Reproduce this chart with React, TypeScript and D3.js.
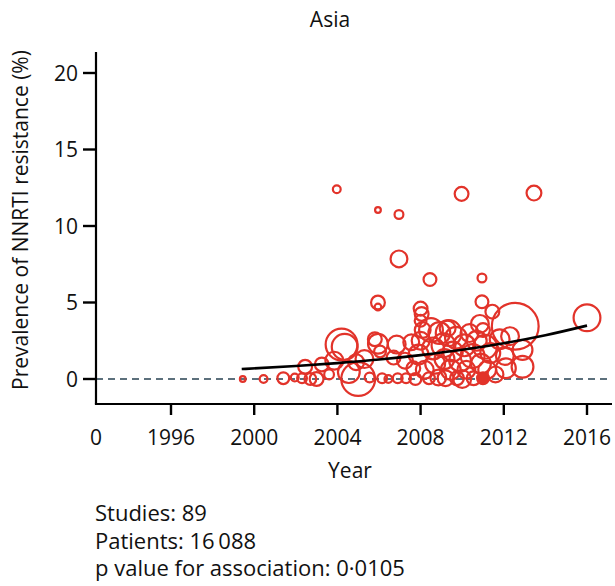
import React from "react";
import * as d3 from "d3";

// Study-level estimates of NNRTI resistance prevalence in Asia
const studyYear = [
  1999.45, 2000.45, 2001.4, 2001.95, 2002.3, 2002.45, 2002.7, 2003.0, 2003.25, 2003.6,
  2003.85, 2004.2, 2004.35, 2004.55, 2005.0, 2004.9, 2005.3, 2005.55, 2005.95, 2005.95,
  2005.95, 2006.05, 2005.8, 2006.15, 2006.45, 2006.85, 2006.7, 2006.9, 2007.25, 2007.3,
  2007.55, 2007.65, 2007.75, 2003.97, 2005.95, 2006.96, 2006.96, 2008.45, 2009.97, 2013.45,
  2010.95, 2010.95, 2008.0, 2008.05, 2008.0, 2008.1, 2008.0, 2007.9, 2008.2, 2008.4,
  2008.6, 2008.7, 2008.9, 2008.85, 2009.1, 2009.15, 2009.2, 2009.3, 2009.45, 2009.55,
  2009.7, 2009.75, 2009.9, 2010.0, 2010.1, 2010.2, 2010.35, 2010.5, 2010.55, 2010.7,
  2010.85, 2010.9, 2011.0, 2011.1, 2011.0, 2011.2, 2011.35, 2011.45, 2011.6, 2011.8,
  2012.05, 2012.1, 2012.55, 2012.9, 2012.9, 2016.0, 2008.5, 2009.35, 2012.3,
];

const studyPrevalence = [
  0, 0, 0.05, 0.1, 0.05, 0.8, 0, 0, 0.95, 0.3,
  1.2, 2.25, 2.1, 0.45, 0, 1.1, 1.3, 0.1, 5.0, 4.7,
  2.3, 1.8, 2.6, 0.05, 0, 2.25, 1.4, 0.05, 1.2, 0.05,
  2.4, 0.7, 0, 12.4, 11.05, 10.75, 7.85, 6.5, 12.1, 12.15,
  6.6, 5.05, 4.6, 4.25, 3.8, 3.2, 2.5, 1.6, 0.6, 0.05,
  2.0, 1.0, 3.0, 0.1, 2.2, 1.3, 0.05, 3.3, 0.6, 1.8,
  2.7, 0.05, 1.2, 0, 2.2, 0.6, 3.0, 1.5, 0.05, 2.5,
  3.6, 1.0, 0.05, 2.1, 3.2, 0.6, 1.7, 4.4, 0.3, 2.6,
  1.5, 0.7, 3.45, 1.9, 0.8, 4.0, 3.2, 3.0, 2.8,
];

const studyPatients = [
  29, 46, 90, 46, 66, 118, 90, 118, 118, 66,
  184, 532, 361, 265, 596, 149, 184, 66, 118, 37,
  223, 90, 118, 66, 46, 184, 118, 66, 149, 66,
  149, 118, 90, 46, 29, 56, 166, 104, 118, 133,
  56, 104, 118, 118, 90, 149, 184, 223, 184, 90,
  265, 223, 265, 149, 311, 223, 149, 149, 223, 223,
  265, 118, 265, 184, 265, 184, 184, 311, 118, 223,
  184, 223, 90, 311, 118, 184, 223, 118, 149, 223,
  184, 223, 1104, 223, 265, 387, 311, 361, 184,
];

// Index of the study drawn as a solid dot
const solidStudies = [72];

// Fitted trend of prevalence over calendar year
const trendYear = [1999.4, 2002, 2004, 2006, 2008, 2010, 2012, 2014, 2016];
const trendPrevalence = [0.65, 0.85, 1.04, 1.27, 1.56, 1.91, 2.34, 2.86, 3.49];

const yTicks = [0, 5, 10, 15, 20];
const xTicks = [1996, 2000, 2004, 2008, 2012, 2016];
const xOriginLabel = "0";

const summaryLines = [
  "Studies: 89",
  "Patients: 16\u2009088",
  "p value for association: 0\u00b70105",
];

const W = 615;
const H = 586;
const FONT = "'Open Sans', 'DejaVu Sans', sans-serif";
const RED = "#e2332a";
const INK = "#111";

export default function App() {
  const axisLeft = 96;
  const axisRight = 612;
  const axisTop = 52;
  const axisBottom = 404;

  const x = d3.scaleLinear().domain([1996, 2016]).range([171, 587]);
  const y = d3.scaleLinear().domain([0, 20]).range([379, 73]);
  const r = d3.scaleSqrt().domain([0, 1150]).range([0, 25]);

  const studies = studyYear.map((yr, i) => ({
    year: yr,
    prev: studyPrevalence[i],
    n: studyPatients[i],
    solid: solidStudies.includes(i),
  }));
  const ordered = [...studies.filter((s) => !s.solid), ...studies.filter((s) => s.solid)];

  const trend = trendYear.map((yr, i) => [yr, trendPrevalence[i]] as [number, number]);
  const trendPath = d3
    .line<[number, number]>()
    .x((d) => x(d[0]))
    .y((d) => y(d[1]))
    .curve(d3.curveMonotoneX)(trend);

  return (
    <svg
      width={W}
      height={H}
      viewBox={`0 0 ${W} ${H}`}
      style={{ position: "absolute", left: 0, top: 0, background: "#fff" }}
      fontFamily={FONT}
    >
      <text x={330} y={27} textAnchor="middle" fontSize={21} fill={INK}>
        Asia
      </text>

      {/* zero reference */}
      <line
        x1={axisLeft}
        x2={axisRight}
        y1={y(0)}
        y2={y(0)}
        stroke="#5c707c"
        strokeWidth={2}
        strokeDasharray="7 5"
      />

      {/* study bubbles */}
      <g>
        {ordered.map((s, i) => (
          <circle
            key={i}
            cx={x(s.year)}
            cy={y(s.prev)}
            r={Math.max(r(s.n) - 1.1, 1)}
            fill={s.solid ? RED : "none"}
            stroke={RED}
            strokeWidth={2.2}
          />
        ))}
      </g>

      {/* trend */}
      <path d={trendPath ?? ""} fill="none" stroke="#000" strokeWidth={2.6} />

      {/* y axis */}
      <line x1={axisLeft} x2={axisLeft} y1={axisTop} y2={axisBottom} stroke="#000" strokeWidth={2.2} />
      {yTicks.map((t) => (
        <g key={t}>
          <line x1={axisLeft - 13} x2={axisLeft} y1={y(t)} y2={y(t)} stroke="#000" strokeWidth={2.4} />
          <text x={78} y={y(t)} dy="0.36em" textAnchor="end" fontSize={21} fill={INK}>
            {t}
          </text>
        </g>
      ))}
      <text
        transform={`translate(28, 220) rotate(-90)`}
        textAnchor="middle"
        fontSize={21}
        fill={INK}
      >
        Prevalence of NNRTI resistance (%)
      </text>

      {/* x axis */}
      <line x1={axisLeft - 1.1} x2={axisRight} y1={axisBottom} y2={axisBottom} stroke="#000" strokeWidth={2.2} />
      {xTicks.map((t) => (
        <g key={t}>
          <line x1={x(t)} x2={x(t)} y1={axisBottom} y2={axisBottom + 11} stroke="#000" strokeWidth={2.4} />
          <text x={x(t)} y={445} textAnchor="middle" fontSize={21} fill={INK}>
            {t}
          </text>
        </g>
      ))}
      <text x={axisLeft} y={445} textAnchor="middle" fontSize={21} fill={INK}>
        {xOriginLabel}
      </text>
      <text x={350} y={478} textAnchor="middle" fontSize={21} fill={INK}>
        Year
      </text>

      {/* summary */}
      {summaryLines.map((line, i) => (
        <text key={i} x={95} y={521 + i * 27.5} fontSize={22} fill={INK}>
          {line}
        </text>
      ))}
    </svg>
  );
}
